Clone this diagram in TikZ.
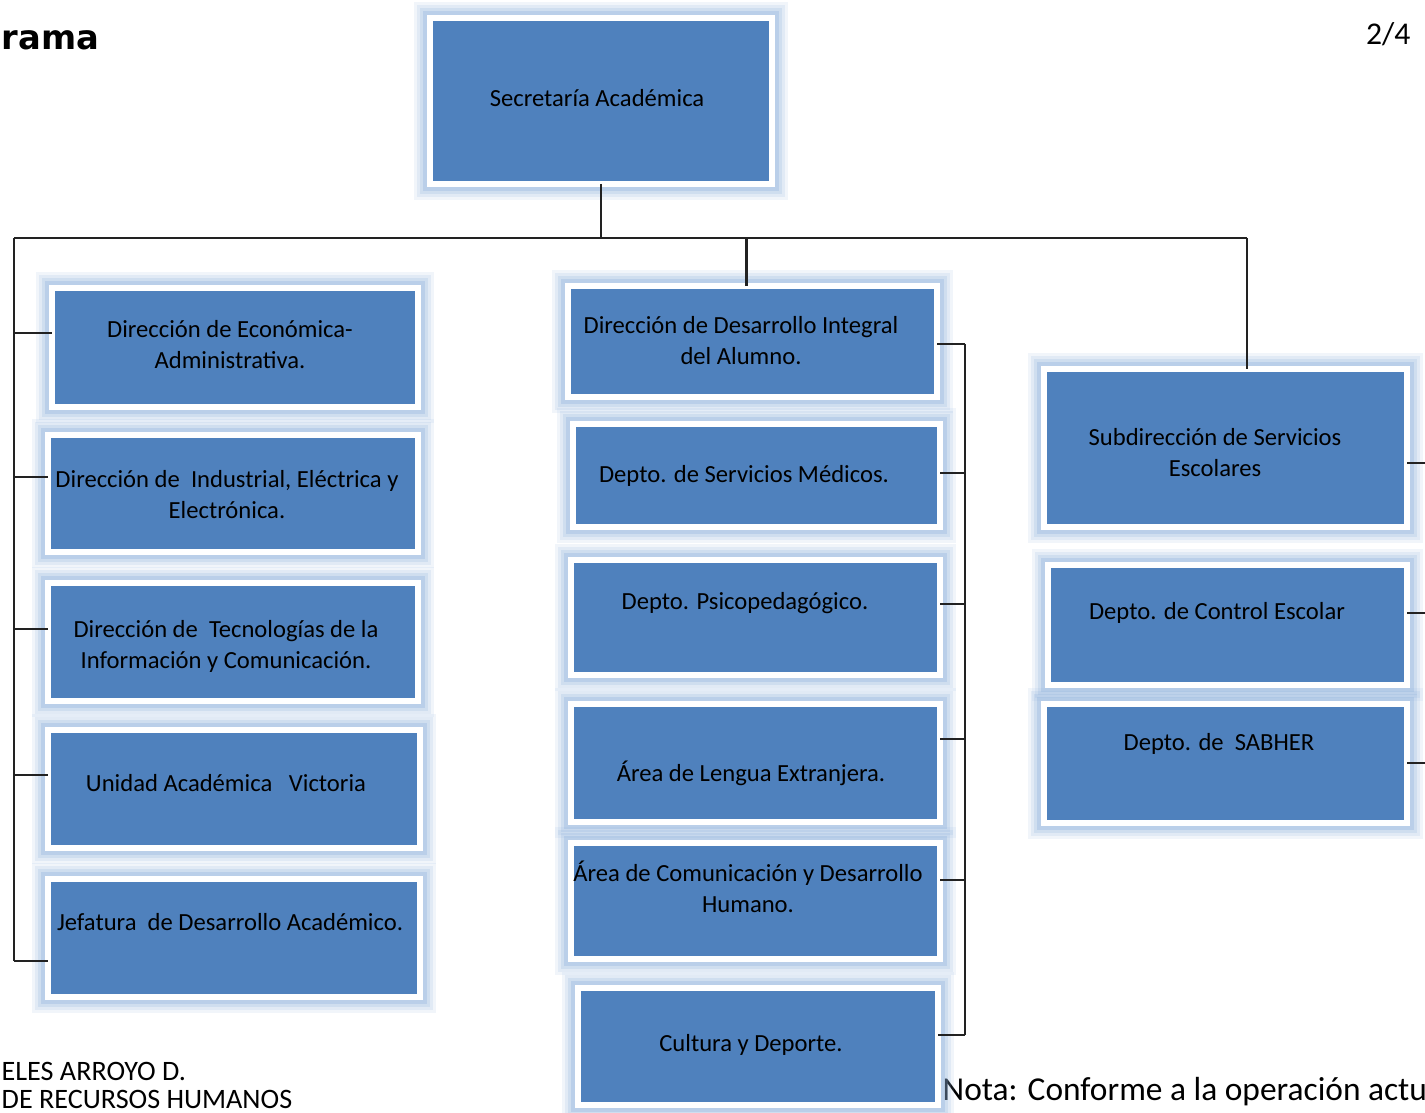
\documentclass[tikz,border=0pt]{standalone}
\usepackage{fontspec}
\setmainfont{Carlito}
\newfontfamily\heavyfont{DejaVu Sans}
\usetikzlibrary{calc}
\definecolor{boxblue}{HTML}{4F81BD}
\definecolor{glowc}{HTML}{8DB0DA}
\definecolor{linec}{HTML}{222222}
\newcommand{\obox}[5]{\node[obox, minimum width={(#4-#2-6)*0.01cm}, minimum height={(#5-#3-6)*0.01cm}] (#1) at ({(#2+#4)/2},{(#3+#5)/2}) {};}
\begin{document}
\begin{tikzpicture}[x=0.01cm,y=-0.01cm,
 obox/.style={rectangle, fill=boxblue, draw=white, line width=1.7pt, inner sep=0pt, outer sep=0pt,
   preaction={draw=glowc, opacity=0.12, line width=9pt},
   preaction={draw=glowc, opacity=0.16, line width=7.5pt},
   preaction={draw=glowc, opacity=0.22, line width=5.8pt},
   preaction={draw=glowc, opacity=0.32, line width=4.2pt}},
 lbl/.style={align=center, font=\fontsize{7}{8.8}\selectfont, inner sep=0pt, text=black},
 conn/.style={draw=linec, line width=0.6pt},
 note/.style={inner sep=0pt, text=black, font=\fontsize{9.5}{12}\selectfont}]
\useasboundingbox (0,0) rectangle (1425,1113);
\clip (0,0) rectangle (1425,1113);

% free texts
\node[anchor=base west, inner sep=0pt, font=\heavyfont\bfseries\fontsize{9.6}{12}\selectfont] (ttl) at (1,50) {rama};
\node[note, anchor=base east, font=\fontsize{9}{11}\selectfont] (pg) at (1411,45) {2/4};
\node[note, anchor=base west, font=\fontsize{8}{10}\selectfont] (nm1) at (1,1080) {ELES ARROYO D.};
\node[note, anchor=base west, font=\fontsize{8}{10}\selectfont] (nm2) at (1,1108) {DE RECURSOS HUMANOS};
\node[note, anchor=base west] (nota) at (942,1100) {Nota: Conforme a la operación actu};

% boxes
\obox{sec}{427}{15}{775}{187}
\obox{l1}{49}{285}{421}{410}
\obox{l2}{45}{432}{421}{555}
\obox{l3}{45}{580}{421}{704}
\obox{l4}{45}{727}{423}{851}
\obox{l5}{45}{876}{423}{1000}
\obox{m1}{565}{283}{940}{400}
\obox{m2}{570}{421}{943}{530}
\obox{m3}{568}{557}{943}{678}
\obox{m4}{568}{701}{943}{825}
\obox{m5}{568}{840}{943}{962}
\obox{m6}{575}{985}{941}{1108}
\obox{r1}{1041}{366}{1410}{530}
\obox{r2}{1045}{562}{1410}{688}
\obox{r3}{1041}{701}{1410}{826}

% labels
\node[lbl] (tsec) at (597,98) {Secretaría Académica};
\node[lbl] (tl1) at (230,345) {Dirección de Económica-\\Administrativa.};
\node[lbl] (tl2) at (227,495) {Dirección de~ Industrial, Eléctrica y\\Electrónica.};
\node[lbl] (tl3) at (226,646) {Dirección de~ Tecnologías de la\\Información y Comunicación.};
\node[lbl] (tl4) at (226,783) {Unidad Académica~~ Victoria};
\node[lbl] (tl5) at (230,922) {Jefatura~ de Desarrollo Académico.};
\node[lbl] (tm1) at (741,341) {Dirección de Desarrollo Integral\\del Alumno.};
\node[lbl] (tm2) at (744,476) {Depto. de Servicios Médicos.};
\node[lbl] (tm3) at (745,603) {Depto. Psicopedagógico.};
\node[lbl] (tm4) at (751,773) {Área de Lengua Extranjera.};
\node[lbl] (tm5) at (748,887) {Área de Comunicación y Desarrollo\\Humano.};
\node[lbl] (tm6) at (751,1045) {Cultura y Deporte.};
\node[lbl] (tr1) at (1215,453) {Subdirección de Servicios\\Escolares};
\node[lbl] (tr2) at (1217,613) {Depto. de Control Escolar};
\node[lbl] (tr3) at (1219,744) {Depto. de~ SABHER};

% connectors
\coordinate (busL) at (14,238);
\coordinate (busR) at (1247,238);
\coordinate (mtop) at ($(m1.north)+(-6,0)$);
\draw[conn] (sec.south) -- (sec.south |- busL);
\draw[conn] (busL) -- (busR);
\draw[conn] (mtop) -- (mtop |- busL);
\draw[conn] (busR) -- (busR |- r1.north);
% left spine
\coordinate (sl1) at (14,333);
\coordinate (sl2) at (14,477);
\coordinate (sl3) at (14,629);
\coordinate (sl4) at (14,775);
\coordinate (sl5) at (14,961);
\draw[conn] (busL) -- (sl5);
\draw[conn] (sl1) -- (sl1 -| l1.west);
\draw[conn] (sl2) -- (sl2 -| l2.west);
\draw[conn] (sl3) -- (sl3 -| l3.west);
\draw[conn] (sl4) -- (sl4 -| l4.west);
\draw[conn] (sl5) -- (sl5 -| l5.west);
% middle bracket
\coordinate (sm1) at (965,344);
\coordinate (sm2) at (965,473);
\coordinate (sm3) at (965,604);
\coordinate (sm4) at (965,739);
\coordinate (sm5) at (965,880);
\coordinate (sm6) at (965,1035);
\draw[conn] (sm1) -- (sm6);
\draw[conn] (sm1) -- (sm1 -| m1.east);
\draw[conn] (sm2) -- (sm2 -| m2.east);
\draw[conn] (sm3) -- (sm3 -| m3.east);
\draw[conn] (sm4) -- (sm4 -| m4.east);
\draw[conn] (sm5) -- (sm5 -| m5.east);
\draw[conn] (sm6) -- (sm6 -| m6.east);
% right stubs
\coordinate (er1) at (1425,463);
\coordinate (er2) at (1425,613);
\coordinate (er3) at (1425,763);
\draw[conn] (er1 -| r1.east) -- (er1);
\draw[conn] (er2 -| r2.east) -- (er2);
\draw[conn] (er3 -| r3.east) -- (er3);
\end{tikzpicture}
\end{document}
